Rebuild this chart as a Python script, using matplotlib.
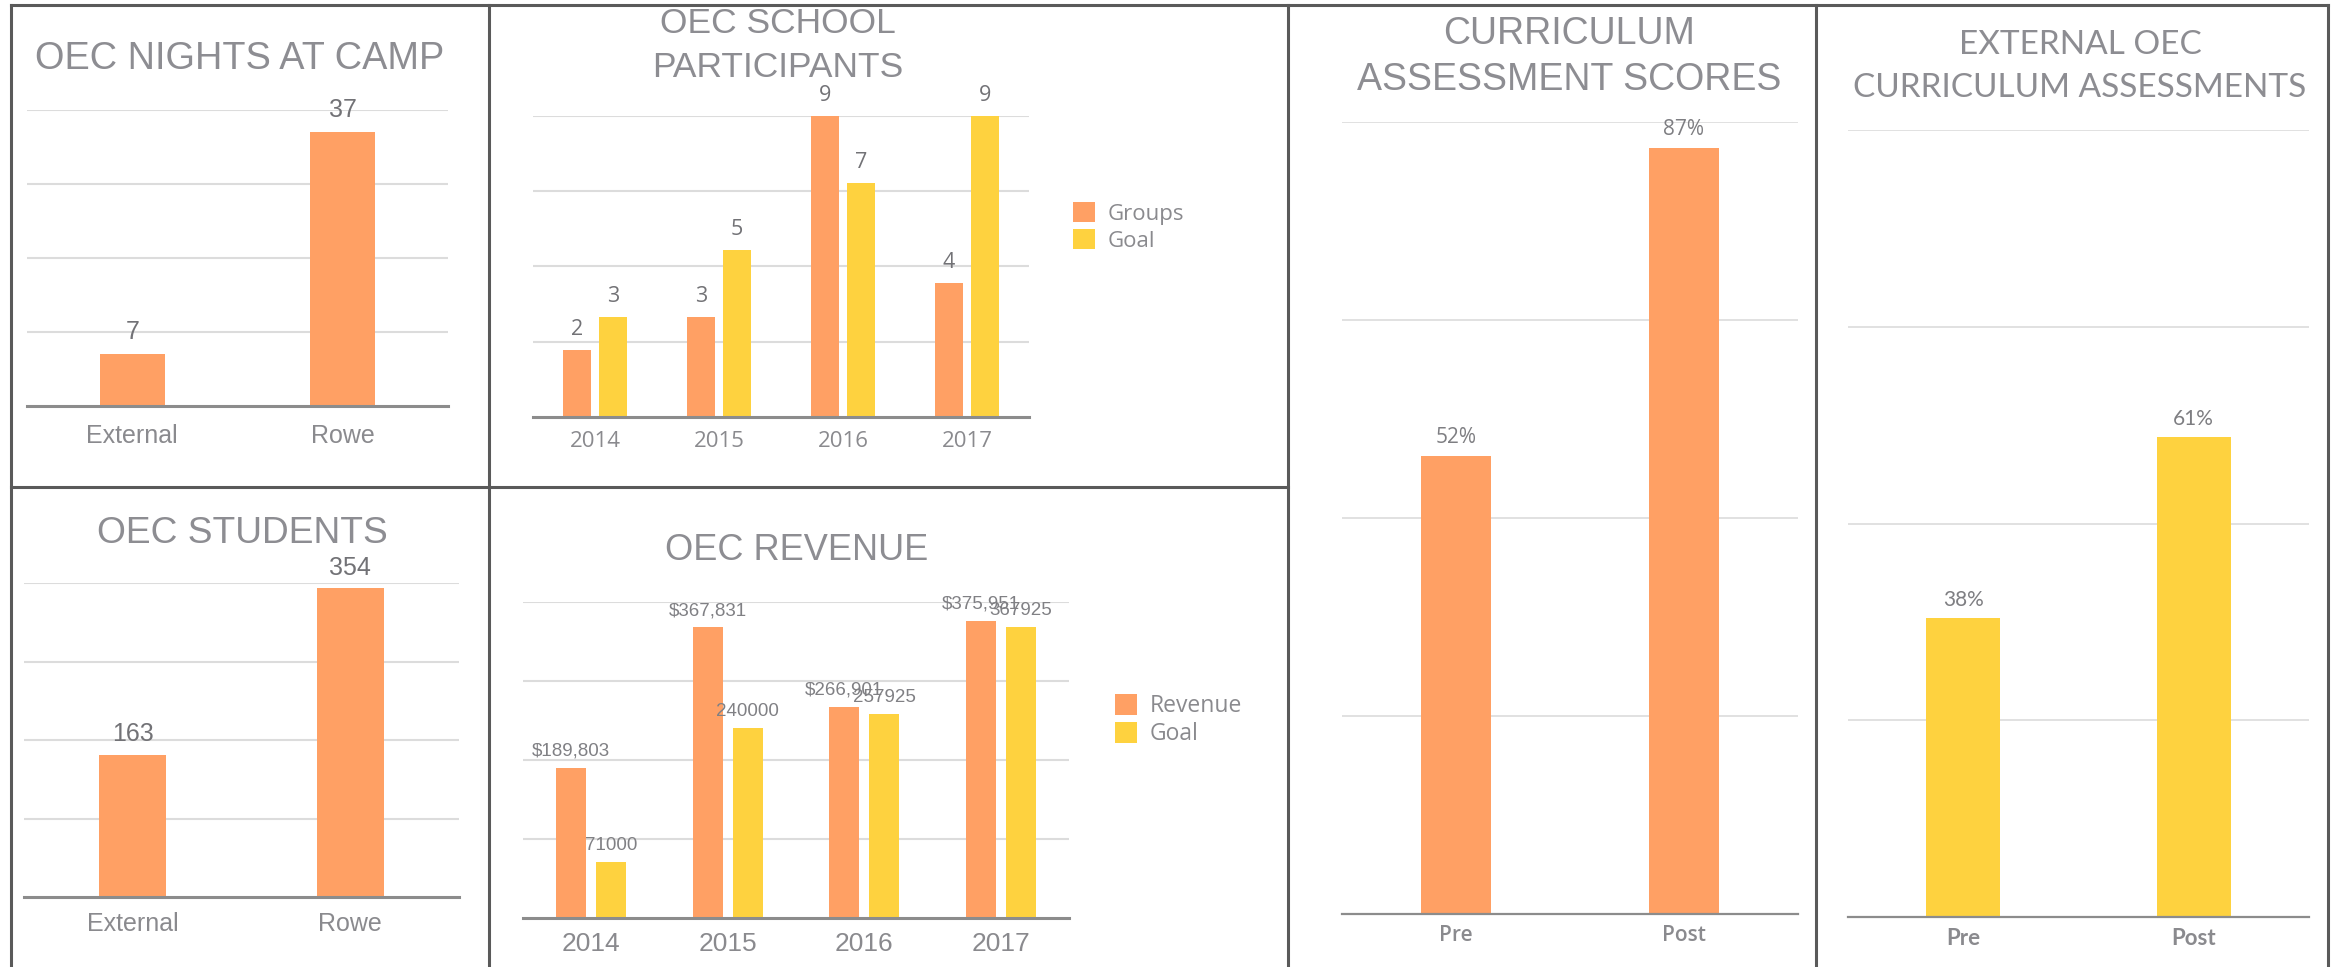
import matplotlib
matplotlib.use("Agg")
import matplotlib.pyplot as plt
from matplotlib.lines import Line2D
import numpy as np

# data
camp_cats = ["External", "Rowe"]
camp_nights = [7, 37]

student_cats = ["External", "Rowe"]
students = [163, 354]

years = ["2014", "2015", "2016", "2017"]
groups = [2, 3, 9, 4]
groups_goal = [3, 5, 7, 9]

revenue = [189803, 367831, 266901, 375951]
revenue_goal = [71000, 240000, 257925, 367925]

assess_cats = ["Pre", "Post"]
assess_scores = [52, 87]
ext_scores = [38, 61]

ORANGE = "#FFA064"
YELLOW = "#FED23F"
TITLE_GRAY = "#8d8d92"
TICK_GRAY = "#8a8a8e"
VAL_GRAY = "#727276"
GRID = "#dcdcdc"
BASE = "#8c8c8c"
BORDER = "#5a5a5a"

W, H = 2336, 967
fig = plt.figure(figsize=(W / 100, H / 100), dpi=100)
fig.patch.set_facecolor("white")


def rect(l, r, b, t):
    return [l / W, 1 - b / H, (r - l) / W, (b - t) / H]


def ftext(x, y, s, **kw):
    fig.text(x / W, 1 - y / H, s, **kw)


def style(ax, ymax, nstep, xlim, grid_lw=1.5, base_lw=2.2):
    ax.set_ylim(0, ymax)
    ax.set_xlim(*xlim)
    ax.set_yticks(np.linspace(0, ymax, nstep + 1)[1:])
    ax.yaxis.grid(True, color=GRID, lw=grid_lw)
    ax.set_axisbelow(True)
    for s in ["top", "right", "left"]:
        ax.spines[s].set_visible(False)
    ax.spines["bottom"].set_color(BASE)
    ax.spines["bottom"].set_linewidth(base_lw)
    ax.spines["bottom"].set_zorder(5)
    ax.tick_params(axis="y", length=0, labelleft=False)
    ax.tick_params(axis="x", length=0)
    ax.patch.set_alpha(0)


def label_bars(ax, bars, texts, off, **kw):
    for b, t in zip(bars, texts):
        ax.annotate(t, (b.get_x() + b.get_width() / 2, b.get_height()),
                    xytext=(0, off), textcoords="offset points",
                    ha="center", va="bottom", **kw)


# ---- OEC nights at camp
ax1 = fig.add_axes(rect(27, 448, 406, 110))
style(ax1, 40, 4, (-0.5, 1.5))
b = ax1.bar(range(2), camp_nights, width=0.31, color=ORANGE)
ax1.set_xticks(range(2), camp_cats, fontsize=18, color=TICK_GRAY, family="Liberation Sans")
ax1.tick_params(axis="x", pad=13)
label_bars(ax1, b, [str(v) for v in camp_nights], 7, fontsize=18, color=VAL_GRAY, family="Liberation Sans")
ftext(35, 69, "OEC NIGHTS AT CAMP", fontsize=27.3, color=TITLE_GRAY, family="Liberation Sans", va="baseline")

# ---- OEC students
ax3 = fig.add_axes(rect(24, 459, 897, 583))
style(ax3, 360, 4, (-0.5, 1.5))
b = ax3.bar(range(2), students, width=0.31, color=ORANGE)
ax3.set_xticks(range(2), student_cats, fontsize=18, color=TICK_GRAY, family="Liberation Sans")
ax3.tick_params(axis="x", pad=11)
label_bars(ax3, b, [str(v) for v in students], 6, fontsize=18, color=VAL_GRAY, family="Liberation Sans")
ftext(242, 543, "OEC STUDENTS", fontsize=26.7, color=TITLE_GRAY, family="Liberation Sans", va="baseline", ha="center")

# ---- OEC school participants
ax2 = fig.add_axes(rect(533, 1029, 417, 116))
style(ax2, 9, 4, (-0.5, 3.5))
x = np.arange(len(years))
b1 = ax2.bar(x - 0.145, groups, width=0.23, color=ORANGE, label="Groups")
b2 = ax2.bar(x + 0.145, groups_goal, width=0.23, color=YELLOW, label="Goal")
ax2.set_xticks(x, years, fontsize=16, color=TICK_GRAY, family="Open Sans")
ax2.tick_params(axis="x", pad=10)
label_bars(ax2, b1, [str(v) for v in groups], 7, fontsize=15.5, color=VAL_GRAY, family="Open Sans")
label_bars(ax2, b2, [str(v) for v in groups_goal], 7, fontsize=15.5, color=VAL_GRAY, family="Open Sans")
ftext(778, 33, "OEC SCHOOL", fontsize=25.5, color=TITLE_GRAY, family="Liberation Sans", va="baseline", ha="center")
ftext(778, 77, "PARTICIPANTS", fontsize=25.5, color=TITLE_GRAY, family="Liberation Sans", va="baseline", ha="center")
leg = ax2.legend(loc="upper left", bbox_to_anchor=(1073 / W, 1 - 202 / H), bbox_transform=fig.transFigure,
                 frameon=False, prop={"family": "Open Sans", "size": 16}, handlelength=1.0, handleheight=1.0,
                 handletextpad=0.55, labelspacing=0.2, borderpad=0, borderaxespad=0)
for t in leg.get_texts():
    t.set_color(TICK_GRAY)

# ---- OEC revenue
ax4 = fig.add_axes(rect(523, 1069, 918, 602))
style(ax4, 400000, 4, (-0.5, 3.5))
b1 = ax4.bar(x - 0.147, revenue, width=0.22, color=ORANGE, label="Revenue")
b2 = ax4.bar(x + 0.147, revenue_goal, width=0.22, color=YELLOW, label="Goal")
ax4.set_xticks(x, years, fontsize=19, color=TICK_GRAY, family="Liberation Sans")
ax4.tick_params(axis="x", pad=10)
label_bars(ax4, b1, ["${:,}".format(v) for v in revenue], 6, fontsize=13.5, color="#808084", family="Liberation Sans")
label_bars(ax4, b2, [str(v) for v in revenue_goal], 6, fontsize=13.5, color="#808084", family="Liberation Sans")
ftext(797, 560, "OEC REVENUE", fontsize=26, color=TITLE_GRAY, family="Liberation Sans", va="baseline", ha="center")
leg = ax4.legend(loc="upper left", bbox_to_anchor=(1115 / W, 1 - 694 / H), bbox_transform=fig.transFigure,
                 frameon=False, prop={"family": "Open Sans", "size": 16.5}, handlelength=0.95, handleheight=1.05,
                 handletextpad=0.55, labelspacing=0.15, borderpad=0, borderaxespad=0)
for t in leg.get_texts():
    t.set_color(TICK_GRAY)

# ---- curriculum assessment scores
ax5 = fig.add_axes(rect(1342, 1798, 914, 122))
style(ax5, 90, 4, (-0.5, 1.5), grid_lw=1.2, base_lw=1.6)
b = ax5.bar(range(2), assess_scores, width=0.31, color=ORANGE)
ax5.set_xticks(range(2), assess_cats, fontsize=15, color=TICK_GRAY, family="Open Sans", fontweight="semibold")
ax5.tick_params(axis="x", pad=8)
label_bars(ax5, b, ["{}%".format(v) for v in assess_scores], 6, fontsize=15, color="#7e7e82",
           family="Open Sans")
ftext(1569, 44, "CURRICULUM", fontsize=27, color=TITLE_GRAY, family="Liberation Sans", va="baseline", ha="center")
ftext(1569, 90, "ASSESSMENT SCORES", fontsize=27, color=TITLE_GRAY, family="Liberation Sans", va="baseline", ha="center")

# ---- external curriculum assessments
ax6 = fig.add_axes(rect(1848, 2309, 917, 130))
style(ax6, 100, 4, (-0.5, 1.5), grid_lw=1.2, base_lw=1.6)
b = ax6.bar(range(2), ext_scores, width=0.32, color=YELLOW)
ax6.set_xticks(range(2), assess_cats, fontsize=16, color=TICK_GRAY, family="Lato", fontweight="bold")
ax6.tick_params(axis="x", pad=8)
label_bars(ax6, b, ["{}%".format(v) for v in ext_scores], 6, fontsize=15, color="#7e7e82", family="Lato")
ftext(2080, 54, "EXTERNAL OEC", fontsize=24, color=TITLE_GRAY, family="Lato", va="baseline", ha="center")
ftext(2080, 97, "CURRICULUM ASSESSMENTS", fontsize=24, color=TITLE_GRAY, family="Lato", va="baseline", ha="center")

# panel borders
segs = [
    ((11, 5), (2328, 5)),
    ((11, 5), (11, 967)),
    ((489, 5), (489, 967)),
    ((1288, 5), (1288, 967)),
    ((1816, 5), (1816, 967)),
    ((2328, 5), (2328, 967)),
    ((11, 487), (1288, 487)),
]
for (xa, ya), (xb, yb) in segs:
    fig.add_artist(Line2D([xa / W, xb / W], [1 - ya / H, 1 - yb / H], transform=fig.transFigure,
                          color=BORDER, lw=2.2, zorder=10, solid_capstyle="projecting"))

fig.savefig("out.png", dpi=100, facecolor="white")
